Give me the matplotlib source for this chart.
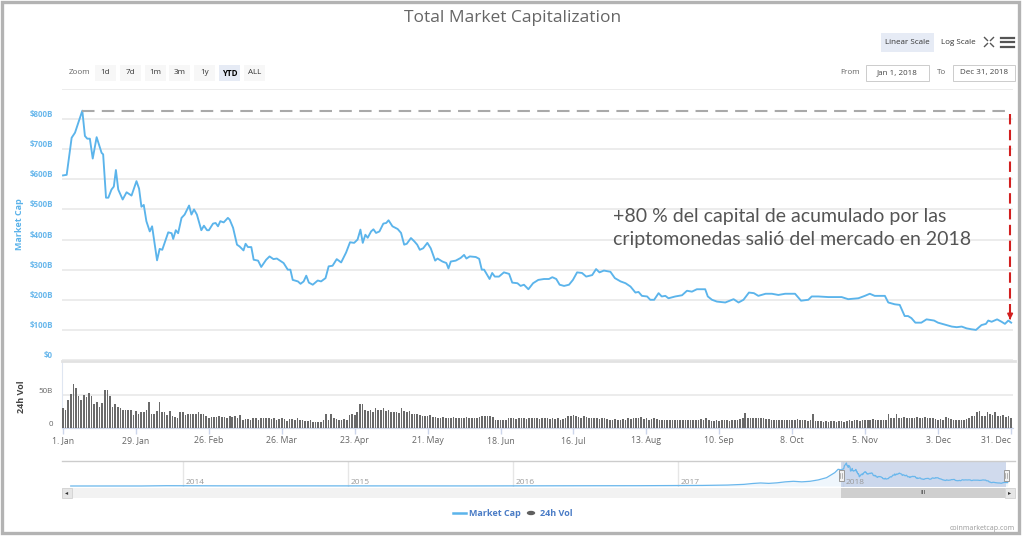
import matplotlib.pyplot as plt
import numpy as np
from matplotlib.patches import Rectangle, Circle
from matplotlib.lines import Line2D

plt.rcParams['font.family'] = ['Open Sans', 'DejaVu Sans']

# total market cap, 2018 (day of year, billions USD)
cap_day = [0, 1.4, 3.3, 4.6, 6.3, 7.4, 8.4, 9.3, 10.3, 11.4, 12.9, 14.8, 15.4, 16.5, 17.4,
           18.6, 19.5, 20.3, 21.2, 22.9, 24.4, 26.3, 28.2, 29.2, 30.1, 31.0, 32.0, 33.3,
           34.2, 36.1, 37.1, 38.1, 40.4, 41.7, 42.3, 43.3, 44.2, 45.5, 46.7, 48.4, 49.3,
           50.3, 51.4, 53.1, 54.1, 55.3, 56.0, 57.6, 58.6, 59.5, 60.4, 61.7, 63.3, 64.0,
           65.3, 66.8, 67.8, 69.3, 70.1, 71.0, 72.3, 73.2, 74.9, 76.1, 78.0, 79.3, 80.8,
           82.1, 83.8, 84.7, 86.3, 87.3, 88.2, 90.2, 91.2, 92.4, 93.4, 94.4, 95.9, 97.8,
           99.1, 100.8, 102.0, 103.5, 105.1, 106.8, 108.7, 110.2, 111.8, 113.1, 114.2,
           115.1, 116.1, 117.0, 118.3, 119.2, 120.2, 121.5, 123.0, 124.1, 125.0, 126.5,
           128.5, 129.8, 131.0, 132.0, 133.6, 134.9, 136.0, 137.0, 138.3, 139.9, 141.2,
           142.9, 143.8, 145.7, 147.2, 148.0, 148.9, 150.8, 152.7, 154.0, 154.9, 156.2,
           158.5, 159.8, 160.8, 161.7, 163.8, 164.8, 165.8, 167.4, 169.3, 171.3, 172.5,
           174.5, 175.7, 177.0, 178.7, 180.5, 182.5, 184.7, 186.6, 187.9, 189.4, 190.7,
           192.4, 194.3, 195.8, 197.4, 199.3, 200.9, 203.2, 204.7, 206.0, 207.7, 210.2,
           211.9, 214.1, 216.0, 217.9, 219.8, 221.0, 222.3, 224.3, 225.5, 227.0, 228.7,
           229.9, 231.3, 232.5, 235.1, 237.7, 239.6, 241.5, 243.4, 246.6, 247.6, 249.2,
           251.1, 253.0, 254.3, 257.5, 259.4, 261.3, 263.4, 265.3, 267.0, 269.8, 272.2,
           274.7, 277.3, 281.1, 283.4, 286.2, 287.5, 290.0, 293.9, 299.0, 301.5, 305.4,
           307.9, 309.8, 311.7, 315.6, 316.9, 319.4, 321.3, 323.2, 324.5, 325.8, 327.3,
           329.6, 331.6, 334.5, 336.0, 341.3, 343.2, 345.1, 347.0, 348.9, 350.6, 352.7,
           354.4, 355.3, 356.6, 358.7, 360.4, 361.7, 363.0, 364.1]
cap_value = [613, 615, 738, 755, 800, 828, 744, 735, 735, 669, 740, 688, 683, 539, 539,
             566, 576, 631, 566, 533, 557, 546, 594, 569, 509, 515, 461, 427,
             444, 331, 369, 366, 424, 421, 402, 431, 421, 472, 483, 513, 483,
             500, 483, 431, 446, 431, 431, 453, 455, 444, 461, 457, 472, 466,
             439, 383, 377, 364, 386, 375, 375, 333, 330, 309, 333, 344, 335,
             337, 327, 322, 300, 300, 266, 261, 253, 261, 280, 257, 250, 264,
             261, 272, 311, 313, 335, 324, 357, 391, 389, 400, 433,
             389, 416, 406, 427, 434, 422, 427, 453, 455, 464, 444,
             435, 422, 383, 386, 405, 394, 383, 366, 371, 389, 371,
             330, 337, 327, 322, 304, 327, 330, 339, 349, 337, 344,
             342, 336, 300, 300, 269, 289, 277, 277, 291, 286, 257,
             255, 246, 250, 235, 255, 266, 269, 269, 275, 269, 250,
             246, 250, 266, 291, 289, 277, 282, 302, 291, 297, 293,
             272, 261, 255, 244, 224, 226, 213, 211, 200, 200, 222,
             211, 213, 205, 211, 215, 230, 227, 235, 235, 211, 200,
             194, 192, 191, 202, 191, 200, 224, 222, 213, 220, 220,
             216, 220, 220, 197, 200, 211, 211, 209, 209, 202, 205,
             213, 220, 213, 213, 191, 185, 183, 146, 146, 139, 124,
             124, 135, 131, 124, 111, 109, 111, 105, 102, 100, 116,
             120, 131, 127, 135, 127, 120, 131, 124]

# 24h volume, one bar per day (billions USD)
vol_value = [31, 27, 43, 52, 67, 61, 48,  43, 50, 47, 53, 48, 36, 40,
             32, 38, 58, 58, 49, 32, 36,  32, 31, 28, 28, 27, 27, 20,
             26, 22, 24, 25, 28, 39, 22,  21, 26, 40, 25, 25, 20, 26,
             19, 17, 16, 24, 24, 20, 22,  22, 21, 22, 25, 22, 21, 18,
             16, 17, 17, 17, 18, 17, 17,  16, 18, 17, 19, 16, 20, 13,
             14, 14, 13, 15, 16, 12, 16,  16, 16, 15, 14, 15, 13, 14,
             15, 14, 11, 14, 14, 13, 15,  12, 13, 11, 11, 12, 10, 10,
             10, 10, 12, 22, 13, 21, 15,  14, 13, 13, 14, 13, 20, 21,
             20, 24, 36, 37, 27, 26, 27,  25, 31, 28, 27, 31, 26, 28,
             25, 25, 24, 23, 30, 26, 24,  26, 22, 22, 21, 20, 19, 18,
             18, 20, 17, 17, 16, 16, 17,  16, 15, 16, 17, 16, 15, 16,
             16, 17, 15, 16, 15, 16, 17,  19, 18, 19, 18, 17, 12, 13,
             12, 13, 13, 16, 16, 15, 14,  15, 16, 15, 14, 15, 16, 15,
             15, 14, 16, 15, 15, 14, 15,  14, 15, 13, 14, 15, 18, 19,
             20, 18, 17, 16, 18, 17, 15,  15, 16, 15, 14, 15, 16, 14,
             13, 13, 14, 13, 12, 14, 13,  15, 14, 15, 16, 15, 17, 14,
             15, 13, 14, 15, 14, 12, 13,  12, 12, 13, 12, 13, 12, 13,
             13, 13, 12, 13, 13, 12, 13,  14, 13, 16, 12, 11, 11, 12,
             11, 12, 13, 12, 11, 12, 12,  13, 14, 15, 23, 15, 16, 15,
             15, 16, 15, 15, 14, 14, 13,  13, 12, 12, 13, 12, 12, 13,
             12, 12, 14, 12, 13, 12, 11,  13, 21, 11, 11, 11, 10, 11,
             10, 11, 11, 10, 11, 11, 10,  11, 12, 11, 12, 12, 11, 12,
             13, 13, 12, 14, 13, 13, 12,  13, 13, 21, 15, 15, 22, 16,
             15, 17, 16, 16, 15, 16, 17,  16, 15, 17, 16, 15, 16, 14,
             13, 14, 13, 17, 15, 14, 13,  12, 12, 13, 12, 14, 15, 18,
             19, 24, 26, 19, 18, 25, 22,  20, 24, 19, 18, 20, 17, 18,
             16]

# navigator history before 2018 (year, billions USD)
nav_year = [2013.32, 2013.5, 2013.75, 2013.9, 2014.0, 2014.1, 2014.25, 2014.5, 2014.75,
            2015.0, 2015.25, 2015.5, 2015.75, 2016.0, 2016.25, 2016.5, 2016.75,
            2017.0, 2017.15, 2017.3, 2017.4, 2017.45, 2017.5, 2017.55, 2017.6,
            2017.65, 2017.7, 2017.75, 2017.8, 2017.85, 2017.9, 2017.95, 2017.97, 2017.99]
nav_value = [1.5, 1.2, 2, 12, 10, 11, 7, 8, 6,
             5, 3.5, 4, 4, 7, 8, 11, 12,
             18, 22, 35, 60, 90, 110, 95, 115,
             150, 170, 150, 170, 220, 300, 480, 600, 580]

tick_days = [0, 28, 56, 84, 112, 140, 168, 196, 224, 252, 280, 308, 336, 364]
tick_labels = ['1. Jan', '29. Jan', '26. Feb', '26. Mar', '23. Apr', '21. May', '18. Jun',
               '16. Jul', '13. Aug', '10. Sep', '8. Oct', '5. Nov', '3. Dec', '31. Dec']
cap_ticks = [0, 100, 200, 300, 400, 500, 600, 700, 800, 900]
cap_tick_labels = ['$0', '$100B', '$200B', '$300B', '$400B', '$500B', '$600B',
                   '$700B', '$800B', '']
nav_years = [2014, 2015, 2016, 2017, 2018]
range_buttons = ['1d', '7d', '1m', '3m', '1y', 'YTD', 'ALL']

W, H = 1024, 536
fig = plt.figure(figsize=(W / 100, H / 100), dpi=100, facecolor='white')


def fx(px):
    return px / W


def fy(py):
    return 1 - py / H


def box(x0, y0, x1, y1, **kw):
    fig.add_artist(Rectangle((fx(x0), fy(y1)), fx(x1) - fx(x0), fy(y0) - fy(y1),
                             transform=fig.transFigure, **kw))


def line(xs, ys, **kw):
    fig.add_artist(Line2D([fx(x) for x in xs], [fy(y) for y in ys],
                          transform=fig.transFigure, **kw))


def text(x, y, s, **kw):
    fig.text(fx(x), fy(y), s, **kw)


blue = '#5bb4eb'
xlim = (-0.4, 364.8)
ax_w = fx(1013) - fx(62)

# ---- main market cap panel
ax = fig.add_axes([fx(62), fy(360), ax_w, fy(89) - fy(360)])
ax.plot(cap_day, cap_value, color=blue, lw=1.35, zorder=3)
ax.set_xlim(*xlim)
ax.set_ylim(0, 900)
ax.set_yticks(cap_ticks)
ax.set_yticklabels(cap_tick_labels)
ax.set_xticks([])
ax.grid(axis='y', color='#e9e9e9', lw=1.2)
ax.tick_params(axis='y', length=0, pad=6.5, labelsize=5.8, labelcolor='#6ab8ec')
for t in ax.get_yticklabels():
    t.set_fontweight('bold')
    t.set_va('bottom')
for s in ax.spines.values():
    s.set_visible(False)
ax.set_ylabel('Market Cap', color='#5cb3ea', fontsize=6.5, fontweight='bold')
ax.yaxis.label.set_va('center')
ax.yaxis.set_label_coords((fx(19) - fx(62)) / ax_w, 0.5)

# peak reference line and drop arrow
i_peak = int(np.argmax(cap_value))
peak = cap_value[i_peak]
last = cap_value[-1]
ax.plot([cap_day[i_peak], 363.7], [peak, peak], color='#a9a9a9', lw=1.5,
        ls=(0, (6, 3.5)), zorder=4)
ax.plot([363.7, 363.7], [peak - 10, last + 22], color='#d21f1f', lw=1.5,
        ls=(0, (5, 2.6)), zorder=5)
ax.annotate('', xy=(363.7, last + 10), xytext=(363.7, last + 24),
            arrowprops=dict(arrowstyle='-|>', color='#d21f1f', lw=1.2, mutation_scale=8),
            zorder=5)

note_font = dict(va='baseline', ha='left', fontsize=14, color='#555555',
                 family=['Lato', 'DejaVu Sans'])
text(613, 221.7, '+80 % del capital de acumulado por las', **note_font)
text(613, 245, 'criptomonedas salió del mercado en 2018', **note_font)

# ---- volume panel
vax = fig.add_axes([fx(62), fy(428.3), ax_w, fy(361) - fy(428.3)])
vax.bar(np.arange(len(vol_value)), vol_value, width=0.62, color='#6a6a6a', lw=0, zorder=3)
vax.set_xlim(*xlim)
vax.set_ylim(0, 101)
vax.set_yticks([0, 50])
vax.set_yticklabels(['0', '50B'])
vax.grid(axis='y', color='#e9e9e9', lw=1.2)
vax.set_xticks(tick_days)
vax.set_xticklabels(tick_labels)
vax.tick_params(axis='x', length=4, width=1, color='#ccd6eb', pad=1.5, labelsize=6.3,
                labelcolor='#666666')
vax.tick_params(axis='y', length=0, pad=6.5, labelsize=5.8, labelcolor='#666666')
vax.get_xticklabels()[-1].set_ha('right')
vax.get_xticklabels()[-1].set_x(365.5)
for t in vax.get_yticklabels():
    t.set_va('bottom')
for k, s in vax.spines.items():
    s.set_visible(k in ('bottom', 'left'))
vax.spines['bottom'].set_color('#ccd6eb')
vax.spines['left'].set_color('#dfe6f1')
vax.set_ylabel('24h Vol', color='#444444', fontsize=6.5, fontweight='bold')
vax.yaxis.label.set_va('center')
vax.yaxis.set_label_coords((fx(21) - fx(62)) / ax_w, 0.47)
line([62, 1015], [360.5, 360.5], color='#e2e2e2', lw=2)

# ---- navigator
nax = fig.add_axes([fx(62), fy(487), fx(1015) - fx(62), fy(461) - fy(487)])
nx = nav_year + [2018 + d / 365 for d in cap_day]
ny = nav_value + cap_value
nax.fill_between(nx, 0, ny, color='#7cb5ec', alpha=0.12, lw=0)
nax.plot(nx, ny, color='#6ab7ec', lw=0.9)
nax.set_xlim(2013.267, 2019.042)
nax.set_ylim(-34.5, 897)
for yr in nav_years:
    nax.axvline(yr, color='#e6e6e6', lw=1, zorder=0)
nax.axvspan(2017.985, 2018.99, color='#bccbe6', alpha=0.7, lw=0)
nax.set_xticks([])
nax.set_yticks([])
for s in nax.spines.values():
    s.set_visible(False)
line([62, 1015], [461, 461], color='#cccccc', lw=1)
for k, yr in enumerate(nav_years):
    text(186 + k * 165, 482.5, str(yr), ha='left', va='center', fontsize=6,
         color='#9a9a9a')
for hx in (841, 1006):
    box(hx - 2.5, 469.5, hx + 2.5, 480.5, facecolor='#f2f2f2', edgecolor='#999999', lw=0.7)
    line([hx - 0.7, hx - 0.7], [472.5, 477.5], color='#999999', lw=0.5)
    line([hx + 0.7, hx + 0.7], [472.5, 477.5], color='#999999', lw=0.5)

# scrollbar
box(62, 488, 1015, 498, facecolor='#f2f2f2', edgecolor='none')
box(62, 488, 72, 498, facecolor='#e6e6e6', edgecolor='#cccccc', lw=0.5)
box(1005, 488, 1015, 498, facecolor='#e6e6e6', edgecolor='#cccccc', lw=0.5)
box(841, 488, 1005, 498, facecolor='#cfcfcf', edgecolor='none')
text(923, 493, 'III', ha='center', va='center', fontsize=4.5, color='#333333')
text(67, 493, '◂', ha='center', va='center', fontsize=4.5, color='#333333')
text(1010, 493, '▸', ha='center', va='center', fontsize=4.5, color='#333333')

# ---- legend
line([453, 466], [513, 513], color=blue, lw=1.8)
text(469, 513, 'Market Cap', ha='left', va='center', fontsize=6.5, color='#4a7cc6',
     fontweight='bold')
fig.add_artist(Circle((fx(531), fy(513)), 4.2 / W, transform=fig.transFigure,
                      facecolor='#5f5f5f', edgecolor='none'))
text(540, 513, '24h Vol', ha='left', va='center', fontsize=6.5, color='#4a7cc6',
     fontweight='bold')
text(1015, 528, 'coinmarketcap.com', ha='right', va='center', fontsize=5, color='#999999')

# ---- header: title, scale buttons, range selector
text(513, 18, 'Total Market Capitalization', ha='center', va='center', fontsize=12.5,
     color='#666666')
box(881, 33, 934, 52, facecolor='#e6ebf5', edgecolor='none')
text(907.5, 42.5, 'Linear Scale', ha='center', va='center', fontsize=5.8, color='#333333')
text(958, 42.5, 'Log Scale', ha='center', va='center', fontsize=5.8, color='#333333')
for dx, dy in ((-1, -1), (1, -1), (-1, 1), (1, 1)):
    line([989 + dx * 1.5, 989 + dx * 4.5], [42 + dy * 1.5, 42 + dy * 4.5], color='#555555',
         lw=1)
for hy in (37.5, 42, 46.5):
    line([1001, 1013.5], [hy, hy], color='#555555', lw=1.6)

text(80, 73, 'Zoom', ha='center', va='center', fontsize=5.8, color='#666666')
for k, lab in enumerate(range_buttons):
    cx = 105.5 + k * 24.8
    sel = lab == 'YTD'
    box(cx - 10.5, 65, cx + 10.5, 81, facecolor='#e6ebf5' if sel else '#f7f7f7',
        edgecolor='none')
    text(cx, 73, lab, ha='center', va='center', fontsize=5.8,
         color='#000000' if sel else '#333333', fontweight='bold' if sel else 'normal')

text(850, 72.5, 'From', ha='center', va='center', fontsize=5.8, color='#666666')
box(866, 64.5, 929, 80.5, facecolor='white', edgecolor='#cccccc', lw=0.7)
text(897.5, 72.5, 'Jan 1, 2018', ha='center', va='center', fontsize=5.8, color='#444444')
text(941.5, 72.5, 'To', ha='center', va='center', fontsize=5.8, color='#666666')
box(953, 64.5, 1015, 80.5, facecolor='white', edgecolor='#cccccc', lw=0.7)
text(984, 72.5, 'Dec 31, 2018', ha='center', va='center', fontsize=5.8, color='#444444')

# outer frame
box(1.5, 1.5, 1018.5, 532.5, facecolor='none', edgecolor='#b3b3b3', lw=2.4)

fig.savefig('out.png', dpi=100, facecolor='white')
